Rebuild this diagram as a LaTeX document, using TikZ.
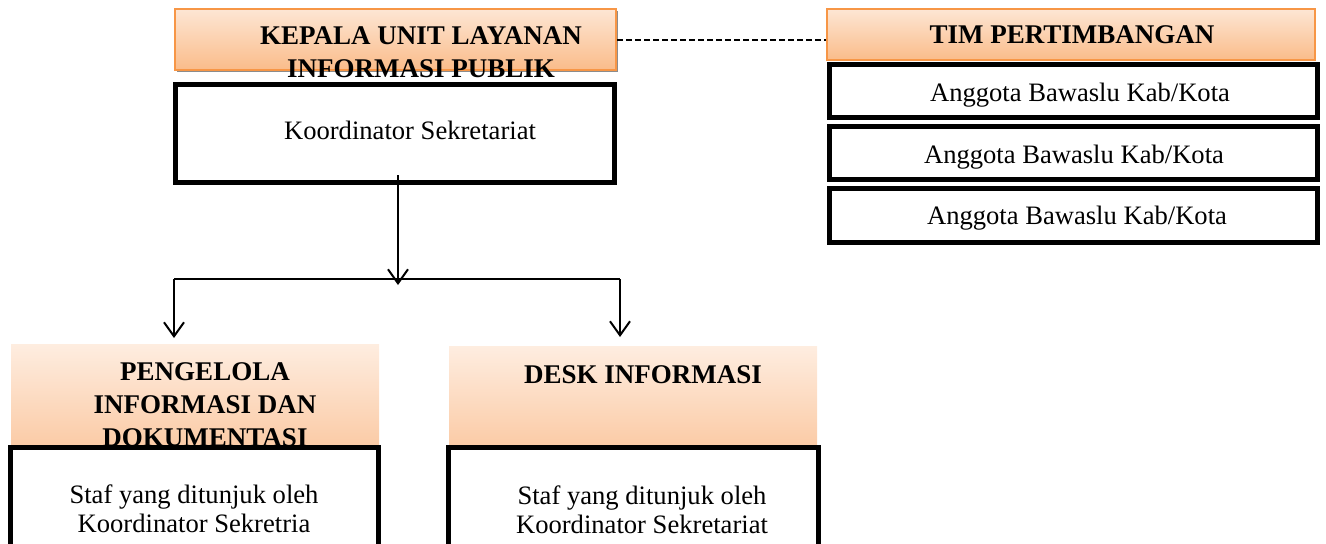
\documentclass[tikz,border=0pt]{standalone}
\usepackage{fontspec}
\setmainfont{Liberation Serif}
\usetikzlibrary{fit,arrows.meta,shadows}
\definecolor{orbord}{RGB}{247,150,70}
\definecolor{ortop}{RGB}{253,230,212}
\definecolor{orbot}{RGB}{250,188,138}
\definecolor{pltop}{RGB}{254,237,224}
\definecolor{plbot}{RGB}{251,203,166}
\tikzset{
  hdbox/.style={inner sep=0pt, draw=orbord, line width=1pt, top color=ortop, bottom color=orbot},
  plbox/.style={inner sep=0pt, top color=pltop, bottom color=plbot},
  blkbox/.style={inner sep=0pt, draw=black, line width=2.5pt, fill=white},
  hdtxt/.style={font=\fontsize{13.5}{16.5}\selectfont\bfseries, align=center, inner sep=0pt},
  bdtxt/.style={font=\fontsize{13.3}{14.5}\selectfont, align=center, inner sep=0pt},
  conn/.style={line width=1pt},
  arr/.style={conn, -{Straight Barb[length=7pt,width=10pt,line width=1pt]}},
  dashconn/.style={line width=0.6pt, dash pattern=on 3pt off 1.5pt}
}
\begin{document}
\begin{tikzpicture}[x=0.5pt,y=-0.5pt]
\useasboundingbox (0,0) rectangle (1326,543);
\clip (0,0) rectangle (1326,543);
% top left
\node[hdbox, drop shadow={shadow xshift=1pt, shadow yshift=-1pt, fill=black!45, opacity=1}, fit={(175,9) (616,70)}] (kepala) {};
\node[blkbox, fit={(175.5,84.5) (614.5,182.5)}] (koord) {};
\node[hdtxt] (kepalat) at (421,52) {KEPALA UNIT LAYANAN\\INFORMASI PUBLIK};
\node[bdtxt] (koordt) at (410,130) {Koordinator Sekretariat};
% right team
\node[hdbox, fit={(827,9) (1315,60)}] (tim) {};
\node[hdtxt] (timt) at (1072,35) {TIM PERTIMBANGAN};
\node[blkbox, fit={(829.5,64.5) (1317.5,117.5)}] (ang1) {};
\node[blkbox, fit={(829.5,126.5) (1317.5,179.5)}] (ang2) {};
\node[blkbox, fit={(829.5,188.5) (1317.5,242.5)}] (ang3) {};
\node[bdtxt] (ang1t) at (1080,95) {Anggota Bawaslu Kab/Kota};
\node[bdtxt] (ang2t) at (1074,157) {Anggota Bawaslu Kab/Kota};
\node[bdtxt] (ang3t) at (1077,218) {Anggota Bawaslu Kab/Kota};
% dashed link
\draw[dashconn] (kepala.east |- 0,40) -- (tim.west |- 0,40);
% bottom boxes
\node[plbox, fit={(11,344) (379,446)}] (peng) {};
\node[plbox, fit={(449,346) (817,446)}] (desk) {};
\node[blkbox, fit={(10.5,447.5) (378.5,548.5)}] (staf1) {};
\node[blkbox, fit={(448.5,447.5) (818.5,548.5)}] (staf2) {};
\node[hdtxt] (pengt) at (205,405) {PENGELOLA\\INFORMASI DAN\\DOKUMENTASI};
\node[hdtxt] (deskt) at (643,375) {DESK INFORMASI};
\node[bdtxt] (staf1t) at (194,509) {Staf yang ditunjuk oleh\\Koordinator Sekretria};
\node[bdtxt] (staf2t) at (642,510) {Staf yang ditunjuk oleh\\Koordinator Sekretariat};
% connectors
\coordinate (c0) at (398,175);
\coordinate (c1) at (398,285);
\coordinate (hl) at (174,279);
\coordinate (hr) at (620,279);
\coordinate (al) at (174,338);
\coordinate (ar) at (620,337);
\draw[conn] (hl) -- (hr);
\draw[arr] (c0) -- (c1);
\draw[arr] (hl) -- (al);
\draw[arr] (hr) -- (ar);
\end{tikzpicture}
\end{document}
